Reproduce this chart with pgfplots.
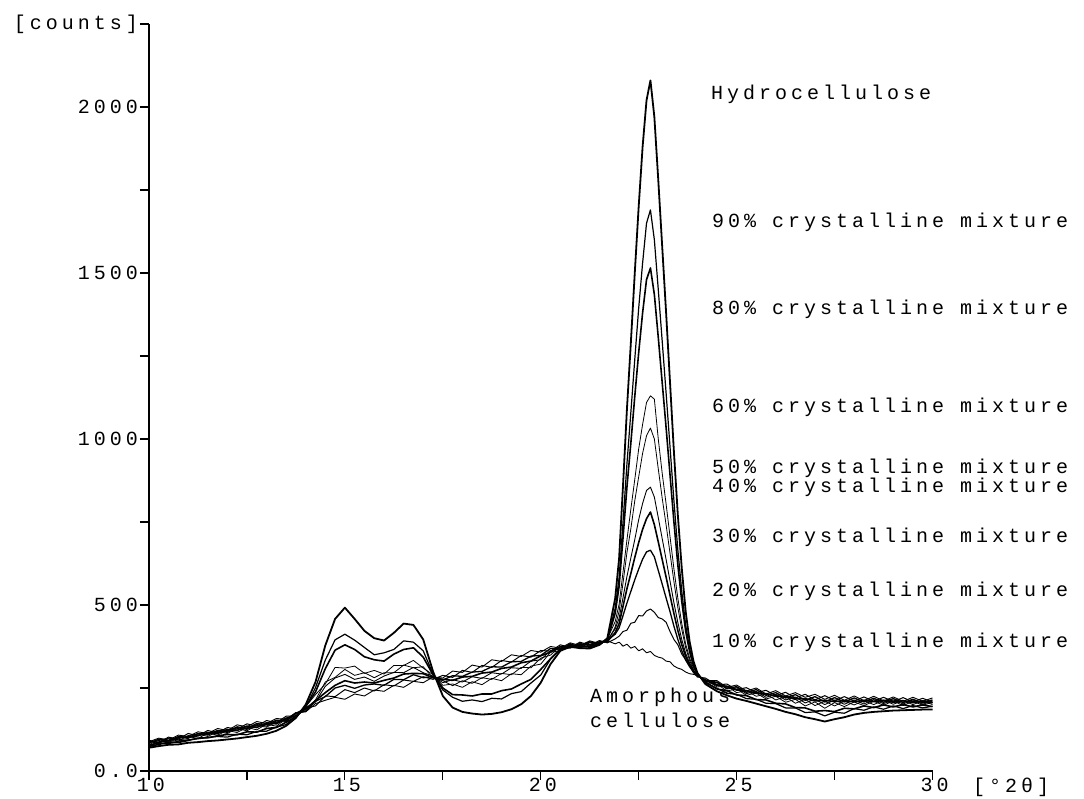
\documentclass[border=0pt]{standalone}
\usepackage{fontspec}
\usepackage{pgfplots}
\usepackage{pgfplotstable}
\pgfplotsset{compat=1.18}
\newfontfamily\pf{Liberation Mono}[LetterSpace=20]
\newcommand\pfs{\pf\fontsize{20}{22}\selectfont}

\pgfplotstableread{
x H c90 c80 c60 c50 c40 c30 c20 c10 A
10.00 70 78 74 86 79 90 76 84 92 88
10.25 75 84 80 92 95 83 87 96 87 99
10.50 79 82 87 86 97 99 91 90 102 93
10.75 80 90 86 99 90 94 100 104 96 108
11.00 85 94 92 104 107 98 102 101 113 104
11.25 87 97 99 98 111 112 106 113 106 118
11.50 90 101 100 114 104 108 116 110 122 113
11.75 92 104 106 108 119 121 113 122 115 128
12.00 95 102 110 122 113 116 125 119 131 122
12.25 98 111 109 116 128 131 122 133 126 139
12.50 102 109 118 131 121 125 135 128 142 133
12.75 106 119 117 124 137 140 131 143 135 149
13.00 112 120 128 141 132 135 145 139 152 143
13.25 121 132 131 135 147 150 142 153 145 158
13.50 136 140 147 157 149 151 159 153 165 156
13.75 160 166 163 162 172 174 166 175 165 176
14.00 200 192 195 194 181 190 187 180 189 178
14.25 268 251 238 230 214 208 212 210 196 203
14.50 378 334 308 262 268 255 236 224 226 213
14.75 458 395 364 312 282 280 258 250 224 222
15.00 492 412 380 310 306 291 272 258 245 216
15.25 458 394 366 316 288 276 265 249 236 232
15.50 422 372 344 294 296 283 268 259 250 226
15.75 400 350 335 303 281 270 265 262 241 244
16.00 393 356 331 292 296 286 273 258 260 240
16.25 416 366 352 318 296 297 280 276 256 258
16.50 444 392 366 318 319 296 292 275 274 252
16.75 440 388 371 333 311 312 294 290 270 270
17.00 396 362 343 310 314 296 293 281 284 266
17.25 300 292 290 290 280 286 281 284 276 283
17.50 226 244 250 258 272 266 276 274 288 280
17.75 191 222 230 262 257 275 273 287 282 301
18.00 178 210 229 252 272 268 283 285 303 297
18.25 173 214 226 269 264 284 285 298 297 319
18.50 170 209 232 260 281 279 295 300 318 313
18.75 172 219 232 279 276 296 298 314 312 335
19.00 177 217 242 272 294 292 309 313 333 330
19.25 186 233 247 293 290 311 313 329 328 350
19.50 201 239 262 290 312 309 326 330 348 345
19.75 226 265 276 316 311 331 331 346 343 363
20.00 266 289 306 322 340 335 347 348 363 358
20.25 322 337 338 358 349 363 358 369 361 375
20.50 362 366 368 362 376 368 374 367 380 370
20.75 374 378 372 384 370 382 375 381 372 386
21.00 370 372 377 371 385 374 382 376 388 378
21.25 369 376 373 386 376 388 380 389 379 392
21.50 380 381 386 379 390 381 388 382 393 384
21.70 400 398 395 398 388 395 390 394 386 392
21.90 520 490 475 450 434 428 417 412 398 383
22.00 640 582 556 502 481 460 444 431 406 388
22.10 860 750 702 599 566 522 496 468 420 376
22.20 1090 925 855 696 658 586 549 506 424 382
22.30 1290 1080 988 789 730 642 595 541 445 370
22.40 1500 1240 1128 878 814 697 643 576 448 375
22.50 1700 1394 1260 970 886 757 688 608 468 362
22.60 1880 1530 1380 1044 957 806 728 638 467 368
22.70 2020 1650 1480 1110 1010 845 760 660 482 356
22.80 2080 1690 1515 1130 1033 855 780 665 488 360
22.90 1970 1600 1435 1120 1000 825 742 645 478 348
23.00 1780 1450 1306 1000 910 763 690 604 462 343
23.10 1580 1295 1170 897 822 700 637 563 458 340
23.20 1380 1138 1034 804 741 637 584 521 448 331
23.30 1170 976 892 706 656 572 529 480 420 329
23.40 960 813 749 608 570 506 474 436 396 316
23.50 770 665 620 520 492 447 423 396 380 310
23.60 610 541 510 444 426 396 380 362 352 306
23.70 480 439 421 382 371 354 345 334 335 298
23.80 390 368 359 340 333 325 319 314 318 293
23.90 330 320 317 310 304 303 300 298 296 291
24.00 295 292 292 294 286 291 287 289 283 288
24.20 262 266 268 266 276 270 274 270 280 273
24.50 240 249 247 262 253 266 258 268 259 272
24.75 228 234 242 241 256 247 255 249 262 252
25.00 218 231 229 247 236 251 244 254 245 259
25.25 211 218 227 228 242 233 242 237 251 241
25.50 203 216 215 235 225 240 234 245 236 250
25.75 195 204 214 217 232 222 233 228 243 232
26.00 187 203 204 225 214 231 225 236 227 242
26.25 178 190 202 207 224 214 225 220 237 226
26.50 171 190 191 216 204 223 217 230 220 236
26.75 162 176 190 196 216 205 218 213 231 222
27.00 156 178 180 208 197 216 211 224 214 231
27.25 149 166 182 189 210 200 213 208 227 216
27.50 156 177 179 206 196 214 209 221 212 228
27.75 162 174 189 194 210 201 212 208 224 213
28.00 170 188 187 208 199 214 208 220 211 226
28.25 175 183 196 197 212 202 213 208 223 212
28.50 178 193 191 210 200 215 209 219 210 225
28.75 180 186 199 198 213 203 213 207 222 211
29.00 182 196 193 211 201 214 207 218 209 223
29.25 183 188 200 197 212 202 212 206 221 210
29.50 184 197 193 210 200 214 206 216 208 222
29.75 185 190 199 198 211 201 211 205 219 210
30.00 185 195 194 207 200 211 205 214 207 220
}\data

\begin{document}
\begin{tikzpicture}[font=\pfs]
\path[use as bounding box] (-149pt,-28pt) rectangle (935pt,771pt);
\begin{axis}[
  scale only axis, width=783.5pt, height=747pt,
  xmin=10, xmax=30, ymin=0, ymax=2250,
  axis lines*=left,
  axis line style={line width=1.2pt},
  tick align=outside,
  major tick length=9pt,
  every tick/.style={line width=1.2pt, black},
  xtick={10,12.5,...,30}, xticklabels={10,,15,,20,,25,,30},
  ytick={0,250,...,2250}, yticklabels={0.0,,500,,1000,,1500,,2000,[counts]},
  minor tick num=0,
  xticklabel style={font=\pfs, inner sep=0pt, anchor=north, yshift=2pt, xshift=2pt},
  yticklabel style={font=\pfs, inner sep=0pt, anchor=east, xshift=-2pt},
  clip=false,
  every axis plot/.append style={black, line join=round},
]
\addplot[line width=1.8pt] table[x=x, y=H] {\data};
\addplot[line width=1.2pt] table[x=x, y=c90] {\data};
\addplot[line width=1.6pt] table[x=x, y=c80] {\data};
\addplot[line width=0.8pt] table[x=x, y=c60] {\data};
\addplot[line width=0.8pt] table[x=x, y=c50] {\data};
\addplot[line width=0.9pt] table[x=x, y=c40] {\data};
\addplot[line width=1.6pt] table[x=x, y=c30] {\data};
\addplot[line width=1.3pt] table[x=x, y=c20] {\data};
\addplot[line width=1.0pt] table[x=x, y=c10] {\data};
\addplot[line width=0.9pt] table[x=x, y=A] {\data};
\end{axis}
\node[anchor=base west, inner sep=0pt] at (562pt,671pt) {Hydrocellulose};
\node[anchor=base west, inner sep=0pt] at (563pt,543pt) {90\% crystalline mixture};
\node[anchor=base west, inner sep=0pt] at (563pt,456pt) {80\% crystalline mixture};
\node[anchor=base west, inner sep=0pt] at (563pt,358pt) {60\% crystalline mixture};
\node[anchor=base west, inner sep=0pt] at (563pt,297pt) {50\% crystalline mixture};
\node[anchor=base west, inner sep=0pt] at (563pt,278pt) {40\% crystalline mixture};
\node[anchor=base west, inner sep=0pt] at (563pt,228pt) {30\% crystalline mixture};
\node[anchor=base west, inner sep=0pt] at (563pt,174pt) {20\% crystalline mixture};
\node[anchor=base west, inner sep=0pt] at (563pt,123pt) {10\% crystalline mixture};
\node[anchor=base west, inner sep=0pt] at (441pt,68pt) {Amorphous};
\node[anchor=base west, inner sep=0pt] at (441pt,43pt) {cellulose};
\node[anchor=base west, inner sep=0pt] at (824pt,-22pt) {[°2θ]};
\end{tikzpicture}
\end{document}
